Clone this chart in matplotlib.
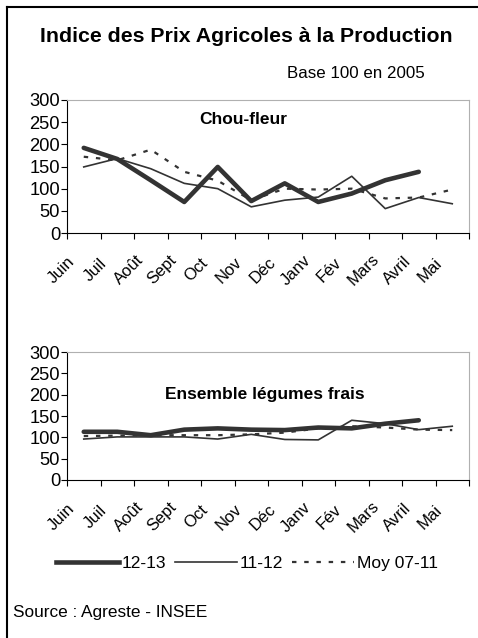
import matplotlib
matplotlib.use("Agg")
import matplotlib.pyplot as plt
from matplotlib.lines import Line2D
from matplotlib.transforms import ScaledTranslation

plt.rcParams['font.family'] = ['Liberation Sans', 'DejaVu Sans']

# data
mois = ["Juin", "Juil", "Août", "Sept", "Oct", "Nov", "Déc",
        "Janv", "Fév", "Mars", "Avril", "Mai"]

chou_1213 = [192, 167, 119, 70, 149, 72, 112, 70, 89, 119, 138]
chou_1112 = [149, 168, 145, 112, 100, 59, 74, 81, 128, 55, 80, 66]
chou_moy = [172, 164, 188, 138, 118, 74, 100, 98, 100, 78, 80, 98]

leg_1213 = [113, 113, 105, 118, 121, 118, 117, 123, 121, 132, 140]
leg_1112 = [96, 101, 101, 101, 96, 107, 95, 94, 140, 132, 118, 126]
leg_moy = [103, 104, 105, 105, 105, 107, 111, 121, 126, 123, 118, 117]

line_col = "#333333"

fig = plt.figure(figsize=(4.78, 6.38), dpi=100)

# outer frame (only top and left visible, cropped)
fig.add_artist(Line2D([7 / 478, 7 / 478], [0, 1 - 7 / 638], color="black", lw=1.5))
fig.add_artist(Line2D([7 / 478, 1], [1 - 7 / 638, 1 - 7 / 638], color="black", lw=1.5))

fig.text(246 / 478, 1 - 37 / 638, "Indice des Prix Agricoles à la Production",
         ha="center", va="center", fontsize=15.3, fontweight="bold")
fig.text(356 / 478, 1 - 73 / 638, "Base 100 en 2005", ha="center", va="center", fontsize=12.2)


def draw_panel(rect, s1213, s1112, smoy, title, ty):
    ax = fig.add_axes(rect)
    x_all = [i + 0.5 for i in range(len(mois))]
    ax.plot(x_all[:len(s1213)], s1213, color=line_col, lw=3.3, solid_capstyle="round", zorder=3)
    ax.plot(x_all[:len(s1112)], s1112, color=line_col, lw=1.2, zorder=2)
    ax.plot(x_all[:len(smoy)], smoy, color=line_col, lw=1.6, dashes=(2, 3.5), zorder=1)
    ax.set_xlim(0, 12)
    ax.set_ylim(0, 300)
    ax.set_yticks(range(0, 301, 50))
    ax.set_xticks(range(0, 13))
    ax.set_xticklabels([])
    ax.set_xticks(x_all, minor=True)
    ax.set_xticklabels(mois, minor=True, rotation=45, ha="center", va="center",
                       rotation_mode="anchor", fontsize=12)
    ax.tick_params(axis="x", which="minor", length=0, pad=0)
    ax.tick_params(axis="x", which="major", length=4, width=0.8, direction="out")
    ax.tick_params(axis="y", length=4, width=0.8, labelsize=13.2, pad=1)
    for lab in ax.get_xticklabels(minor=True):
        lab.set_transform(lab.get_transform() + ScaledTranslation(-0.22, -0.37, fig.dpi_scale_trans))
    for side in ("top", "right"):
        ax.spines[side].set_color("#b0b0b0")
    for side in ("left", "bottom"):
        ax.spines[side].set_color("black")
        ax.spines[side].set_linewidth(0.8)
    ax.text(title[1], ty, title[0], ha="center", va="center", fontsize=12.5, fontweight="bold")
    return ax


draw_panel([67 / 478, 1 - 233 / 638, 402 / 478, 133 / 638],
           chou_1213, chou_1112, chou_moy, ("Chou-fleur", 5.25), 257)
draw_panel([67 / 478, 1 - 480 / 638, 402 / 478, 128 / 638],
           leg_1213, leg_1112, leg_moy, ("Ensemble légumes frais", 5.9), 200)

# legend
handles = [Line2D([], [], color=line_col, lw=3.3),
           Line2D([], [], color=line_col, lw=1.2),
           Line2D([], [], color=line_col, lw=1.6, dashes=(2, 3.5))]
fig.legend(handles, ["12-13", "11-12", "Moy 07-11"], loc="center",
           bbox_to_anchor=(247 / 478, 1 - 563 / 638), ncol=3, frameon=False,
           fontsize=12.5, handlelength=3.6, handletextpad=0.15, columnspacing=0.5)

fig.text(13 / 478, 1 - 612 / 638, "Source : Agreste - INSEE", ha="left", va="center", fontsize=12.4)

fig.savefig("out.png", dpi=100, facecolor="white")
